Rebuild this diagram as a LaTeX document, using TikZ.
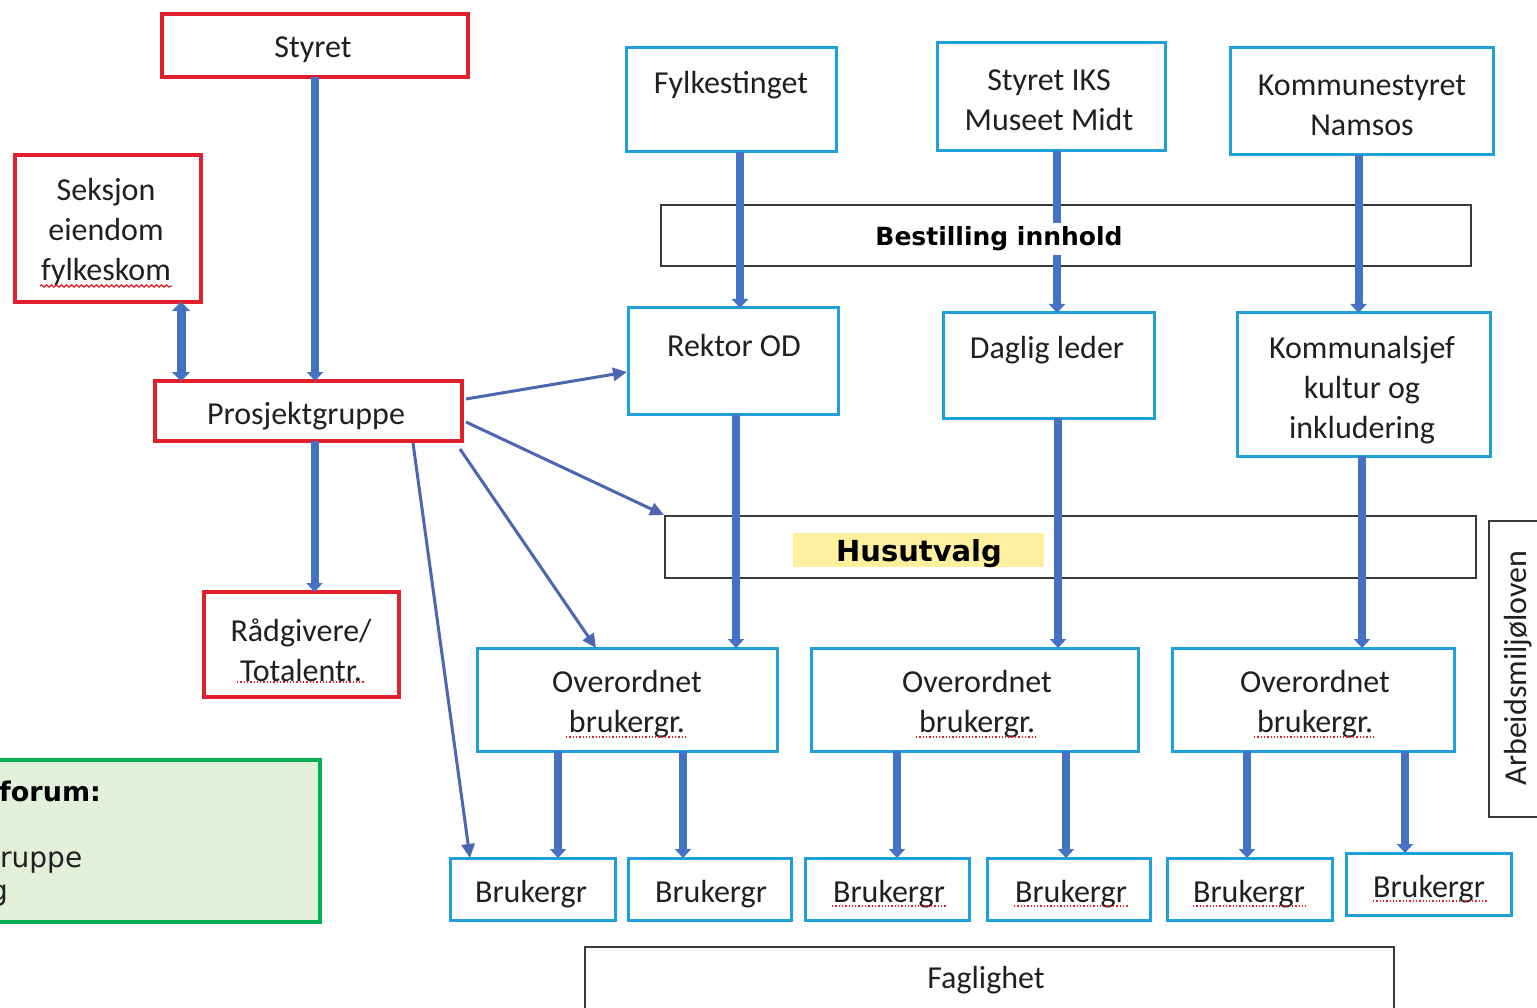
\documentclass[tikz,border=0pt]{standalone}
\usepackage{fontspec}
\setmainfont{Carlito}
\newfontfamily\dvs{DejaVu Sans}
\usetikzlibrary{arrows.meta,calc,decorations.pathmorphing}
\definecolor{redb}{HTML}{E2202B}
\definecolor{cyanb}{HTML}{1FA0DC}
\definecolor{arrowb}{HTML}{4472C4}
\definecolor{thinb}{HTML}{4A67B0}
\definecolor{greenb}{HTML}{00B050}
\definecolor{greenf}{HTML}{E2F0D9}
\definecolor{yel}{HTML}{FFF0A0}
\definecolor{greyb}{HTML}{3A3A3A}
\definecolor{txtc}{HTML}{202020}
\newcommand\bx[6]{\node[#2,minimum width={#5-#3},minimum height={#6-#4}] (#1) at ({(#3+#5)/2},{(#4+#6)/2}) {};}
\begin{document}
\begin{tikzpicture}[x=1pt,y=-1pt,
  redbox/.style={draw=redb,line width=4pt,fill=white,inner sep=0pt,outer sep=0pt},
  cyanbox/.style={draw=cyanb,line width=3pt,fill=white,inner sep=0pt,outer sep=0pt},
  blackbox/.style={draw=greyb,line width=2.5pt,inner sep=0pt,outer sep=0pt},
  greenbox/.style={draw=greenb,fill=greenf,line width=4pt,inner sep=0pt,outer sep=0pt},
  t/.style={font=\fontsize{32}{40}\selectfont,text=txtc,align=center,inner sep=0pt,yshift=-3pt},
  bt/.style={font=\dvs\bfseries\fontsize{25}{30}\selectfont,text=black,inner sep=0pt,yshift=-3pt},
  big/.style={draw=arrowb,line width=8pt,-{Triangle[width=16pt,length=9pt]}},
  bigboth/.style={draw=arrowb,line width=9pt,{Triangle[width=18pt,length=9pt]}-{Triangle[width=18pt,length=9pt]}},
  thin/.style={draw=thinb,line width=3pt,-{Triangle[width=13pt,length=14pt]}},
  squig/.style={draw=redb,line width=1.3pt,dotted}
]
\useasboundingbox (0,0) rectangle (1537,1008);
\clip (0,0) rectangle (1537,1008);
\fill[white] (0,0) rectangle (1537,1008);

% outline-only boxes (lines pass over them)
\bx{bes}{blackbox}{661}{205}{1471}{266}
\bx{hus}{blackbox}{665}{516}{1476}{578}
\fill[yel] (793,533) rectangle (1044,567);
\bx{fag}{blackbox}{585}{947}{1394}{1015}
\bx{arb}{blackbox}{1489}{521}{1560}{817}

% left (red) boxes
\bx{st}{redbox}{162}{14}{468}{77}
\bx{sek}{redbox}{15}{155}{201}{302}
\bx{pro}{redbox}{155}{381}{462}{441}
\bx{rad}{redbox}{204}{592}{399}{697}
\bx{grn}{greenbox}{-20}{760}{320}{922}

% cyan boxes
\bx{fyl}{cyanbox}{626}{48}{836}{152}
\bx{iks}{cyanbox}{937}{43}{1165}{151}
\bx{kst}{cyanbox}{1230}{48}{1493}{155}
\bx{rek}{cyanbox}{628}{308}{838}{414}
\bx{dag}{cyanbox}{943}{313}{1154}{418}
\bx{kom}{cyanbox}{1237}{313}{1490}{456}
\bx{ov1}{cyanbox}{477}{648}{777}{751}
\bx{ov2}{cyanbox}{811}{648}{1138}{751}
\bx{ov3}{cyanbox}{1172}{648}{1454}{751}
\bx{bg1}{cyanbox}{450}{858}{615}{920}
\bx{bg2}{cyanbox}{628}{858}{791}{920}
\bx{bg3}{cyanbox}{805}{858}{969}{920}
\bx{bg4}{cyanbox}{987}{858}{1150}{920}
\bx{bg5}{cyanbox}{1167}{858}{1332}{920}
\bx{bg6}{cyanbox}{1346}{853}{1511}{915}

% thick connectors
\draw[big] (st.south) coordinate (a0) -- (a0 |- pro.north);
\draw[bigboth] ($(sek.south east)+(-20,0)$) coordinate (a1) -- (a1 |- pro.north);
\draw[big] ($(pro.south)+(6,0)$) coordinate (a2) -- (a2 |- rad.north);
\draw[big] ($(fyl.south)+(9,0)$) coordinate (a3) -- (a3 |- rek.north);
\draw[big] ($(iks.south)+(6,0)$) coordinate (a4) -- (a4 |- dag.north);
\draw[big] ($(kst.south)+(-3,0)$) coordinate (a5) -- (a5 |- kom.north);
\draw[big] ($(rek.south)+(3,0)$) coordinate (a6) -- (a6 |- ov1.north);
\draw[big] ($(dag.south)+(9.5,0)$) coordinate (a7) -- (a7 |- ov2.north);
\draw[big] ($(kom.south)+(-1.5,0)$) coordinate (a8) -- (a8 |- ov3.north);
\draw[big] ($(ov1.south)+(-69,0)$) coordinate (b1) -- (b1 |- bg1.north);
\draw[big] ($(ov1.south)+(56,0)$) coordinate (b2) -- (b2 |- bg2.north);
\draw[big] ($(ov2.south)+(-77.5,0)$) coordinate (b3) -- (b3 |- bg3.north);
\draw[big] ($(ov2.south)+(91.5,0)$) coordinate (b4) -- (b4 |- bg4.north);
\draw[big] ($(ov3.south)+(-66,0)$) coordinate (b5) -- (b5 |- bg5.north);
\draw[big] ($(ov3.south)+(92,0)$) coordinate (b6) -- (b6 |- bg6.north);

% thin connectors from Prosjektgruppe
\draw[thin] ($(pro.east)+(4,-12)$) -- ($(rek.west)+(-1,11)$);
\draw[thin] ($(pro.east)+(4,11)$) -- ($(hus.north west)+(-1,-1)$);
\draw[thin] ($(pro.south east)+(-2,8)$) -- ($(ov1.north)+(-31,0)$);
\draw[thin] ($(pro.south east)+(-49,2)$) -- ($(bg1.north west)+(20,0)$);

% texts
\node[t] (stT) at (313,47) {Styret};
\node[t] (sekT) at (106,229) {Seksjon\\eiendom\\fylkeskom};
\node[t] (proT) at (306,413) {Prosjektgruppe};
\node[t] (radT) at (301,647) {Rådgivere/\\Totalentr.};
\node[t] (fylT) at (731,82) {Fylkestinget};
\node[t] (iksT) at (1049,97) {Styret IKS\\Museet Midt};
\node[t] (kstT) at (1362,102) {Kommunestyret\\Namsos};
\node[t] (rekT) at (734,343) {Rektor OD};
\node[t] (dagT) at (1047,347) {Daglig leder};
\node[t] (komT) at (1362,387) {Kommunalsjef\\kultur og\\inkludering};
\node[t] (ov1T) at (627,701) {Overordnet\\brukergr.};
\node[t] (ov2T) at (977,701) {Overordnet\\brukergr.};
\node[t] (ov3T) at (1315,701) {Overordnet\\brukergr.};
\node[t] (bg1T) at (531,891) {Brukergr};
\node[t] (bg2T) at (711,891) {Brukergr};
\node[t] (bg3T) at (889,891) {Brukergr};
\node[t] (bg4T) at (1071,891) {Brukergr};
\node[t] (bg5T) at (1249,891) {Brukergr};
\node[t] (bg6T) at (1429,886) {Brukergr};
\node[t] (fagT) at (986,977) {Faglighet};
\node[t,rotate=90,yshift=3pt,xshift=3pt] (arbT) at (1521,668) {Arbeidsmiljøloven};
\node[bt,fill=white,inner sep=4pt] (besT) at (999,236) {Bestilling innhold};
\node[bt,font=\dvs\bfseries\fontsize{29}{34}\selectfont] (husT) at (919,551) {Husutvalg};
\node[bt,font=\dvs\bfseries\fontsize{27}{34}\selectfont,anchor=west,yshift=3pt] (grn1) at (-1,791) {forum:};
\node[t,font=\dvs\fontsize{28}{34}\selectfont,anchor=west] (grn2) at (0,860) {ruppe};
\node[t,font=\dvs\fontsize{28}{34}\selectfont,anchor=west] (grn3) at (-10,893) {g};

% spell-check underlines
\draw[draw=redb,line width=1.2pt,decorate,decoration={snake,amplitude=1.2pt,segment length=5pt}] (40,286) -- (172,286);
\draw[squig] (237,682) -- (365,682);
\draw[squig] (566,737) -- (686,737);
\draw[squig] (916,737) -- (1036,737);
\draw[squig] (1254,737) -- (1375,737);
\draw[squig] (832,906) -- (946,906);
\draw[squig] (1014,906) -- (1128,906);
\draw[squig] (1193,906) -- (1306,906);
\draw[squig] (1373,901) -- (1487,901);
\end{tikzpicture}
\end{document}
